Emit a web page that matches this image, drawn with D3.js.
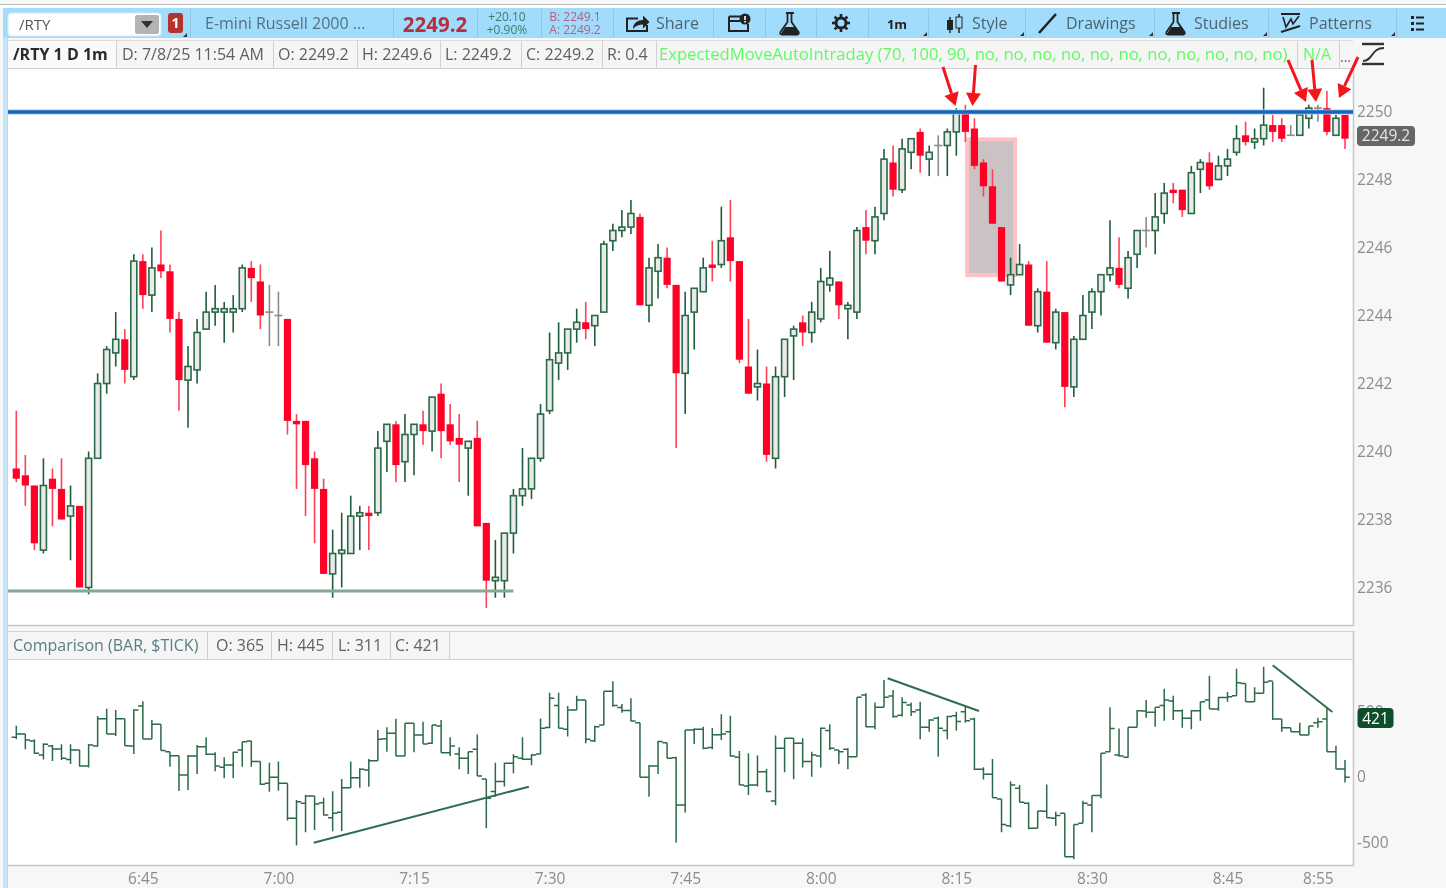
<!DOCTYPE html>
<html><head><meta charset="utf-8">
<script src="https://cdnjs.cloudflare.com/ajax/libs/d3/7.8.5/d3.min.js"></script>
<style>html,body{margin:0;padding:0;background:#f7f7f7;overflow:hidden}svg{display:block;filter:blur(.4px)}text{font-family:"Open Sans",sans-serif}</style>
</head><body><svg id="c" width="1446" height="888"></svg>
<script>
const priceOpen=[2239.5,2239.3,2239.0,2237.1,2239.2,2238.9,2238.1,2238.4,2236.0,2239.8,
2242.0,2242.9,2243.3,2242.2,2245.6,2244.6,2245.5,2245.3,2243.9,2242.1,
2242.4,2243.6,2244.1,2244.1,2244.1,2244.2,2245.4,2245.0,2244.1,2244.0,
2243.9,2240.9,2240.9,2239.8,2238.9,2236.4,2237.0,2237.0,2238.1,2238.2,
2238.2,2240.3,2240.8,2239.7,2240.5,2240.8,2240.6,2241.7,2240.8,2240.4,
2240.1,2240.4,2237.9,2236.2,2236.2,2237.6,2238.7,2238.9,2239.8,2241.2,
2242.6,2242.9,2243.6,2243.8,2243.7,2244.1,2246.2,2246.5,2246.6,2246.9,
2244.3,2245.3,2245.7,2244.9,2242.3,2244.1,2244.7,2245.5,2245.5,2246.3,
2245.6,2242.5,2241.9,2242.0,2239.8,2242.2,2243.4,2243.8,2243.5,2243.9,
2244.9,2245.0,2244.2,2244.1,2246.6,2246.2,2247.0,2248.5,2247.7,2248.8,
2249.4,2248.6,2249.0,2249.0,2249.4,2250.0,2249.5,2248.5,2247.8,2246.6,
2244.9,2245.2,2245.5,2243.7,2244.7,2243.2,2244.1,2241.9,2243.3,2244.1,
2244.7,2245.2,2245.4,2244.8,2245.8,2246.5,2246.5,2247.0,2247.7,2247.7,
2247.0,2248.3,2248.5,2248.0,2248.4,2248.8,2249.3,2249.1,2249.2,2249.6,
2249.6,2249.3,2249.3,2249.8,2250.1,2250.1,2249.3,2249.9];
const priceHigh=[2241.2,2239.9,2239.0,2239.8,2239.5,2239.8,2239.0,2238.4,2240.0,2242.3,
2243.1,2244.1,2243.6,2245.8,2245.8,2246.0,2246.5,2245.5,2244.1,2243.1,
2243.9,2244.7,2244.9,2244.4,2244.6,2245.5,2245.6,2245.5,2244.9,2244.7,
2243.9,2241.1,2240.9,2240.0,2239.2,2237.7,2238.2,2238.7,2238.4,2238.4,
2240.6,2240.8,2240.9,2241.1,2240.8,2241.2,2241.6,2242.0,2241.4,2241.1,
2240.3,2240.9,2237.9,2237.4,2237.6,2238.9,2240.1,2239.8,2241.4,2243.5,
2243.8,2243.6,2244.2,2244.4,2244.0,2246.2,2246.7,2247.1,2247.4,2247.0,
2245.7,2246.1,2246.0,2244.9,2244.7,2244.8,2245.7,2246.2,2247.2,2247.4,
2245.6,2243.9,2243.0,2242.5,2242.5,2243.3,2243.7,2244.0,2244.4,2245.4,
2245.9,2245.0,2244.4,2246.6,2247.1,2247.2,2248.9,2249.0,2249.2,2249.2,
2249.5,2249.0,2249.3,2249.5,2250.1,2250.2,2249.8,2248.6,2248.3,2246.6,
2245.7,2246.1,2245.6,2244.8,2245.6,2244.2,2244.1,2243.4,2244.6,2244.8,
2245.2,2246.8,2246.3,2245.9,2246.5,2246.9,2247.6,2247.9,2247.9,2247.7,
2248.4,2248.6,2248.8,2248.7,2248.9,2249.6,2249.7,2249.5,2250.7,2249.9,
2249.8,2249.6,2249.9,2250.2,2250.2,2250.6,2249.9,2249.9];
const priceLow=[2239.1,2238.4,2237.1,2237.0,2237.8,2238.0,2236.8,2236.0,2235.8,2239.8,
2241.7,2242.5,2242.0,2242.1,2244.2,2244.1,2245.1,2243.5,2241.2,2240.7,
2242.0,2243.6,2243.7,2243.2,2243.5,2244.1,2244.4,2243.6,2243.1,2243.1,
2240.5,2238.9,2238.1,2237.3,2236.4,2235.7,2236.0,2237.0,2237.1,2237.1,
2238.1,2239.4,2239.1,2239.1,2239.3,2240.2,2240.0,2239.8,2240.2,2239.1,
2238.7,2237.8,2235.4,2235.7,2235.7,2237.0,2238.4,2238.6,2239.7,2241.1,
2242.1,2242.4,2243.2,2243.3,2243.1,2244.1,2245.9,2246.3,2246.4,2244.3,
2243.8,2244.5,2244.8,2240.1,2241.1,2243.0,2244.7,2245.0,2245.4,2245.0,
2242.6,2241.7,2241.5,2239.7,2239.5,2241.6,2242.1,2243.1,2243.2,2243.8,
2244.7,2243.9,2243.3,2243.9,2245.8,2245.8,2246.8,2247.5,2247.6,2248.3,
2248.2,2248.1,2248.1,2248.1,2248.7,2249.1,2248.3,2247.5,2246.7,2245.0,
2244.6,2245.2,2243.7,2243.5,2243.2,2243.0,2241.3,2241.6,2243.3,2243.6,
2244.0,2245.0,2244.8,2244.5,2245.4,2246.0,2245.8,2246.7,2247.3,2246.9,
2247.0,2247.6,2247.7,2248.0,2248.1,2248.7,2249.0,2248.9,2249.0,2249.1,
2249.1,2249.3,2249.3,2249.5,2249.7,2249.3,2249.3,2248.9];
const priceClose=[2239.2,2239.0,2237.3,2239.0,2238.9,2238.0,2238.4,2236.0,2239.8,2242.0,
2243.0,2243.3,2242.4,2245.6,2244.6,2245.4,2245.3,2243.9,2242.1,2242.5,
2243.5,2244.1,2244.2,2244.2,2244.2,2245.4,2245.1,2244.0,2244.1,2244.0,
2240.9,2240.8,2239.6,2238.9,2236.4,2237.0,2237.1,2238.1,2238.2,2238.1,
2240.1,2240.8,2239.6,2240.5,2240.8,2240.6,2241.6,2240.6,2240.3,2240.2,
2240.3,2237.8,2236.2,2236.3,2237.6,2238.7,2238.9,2239.8,2241.1,2242.7,
2242.9,2243.6,2243.8,2243.6,2244.0,2246.1,2246.5,2246.6,2247.0,2244.3,
2245.4,2245.7,2244.9,2242.3,2244.0,2244.8,2245.4,2245.4,2246.2,2245.6,
2242.7,2241.7,2242.0,2239.9,2242.2,2243.3,2243.6,2243.5,2244.1,2245.0,
2245.1,2244.3,2244.3,2246.5,2246.2,2246.9,2248.6,2247.7,2248.9,2249.2,
2248.7,2248.8,2249.0,2249.4,2250.0,2249.4,2248.4,2247.8,2246.7,2245.0,
2245.2,2245.5,2243.7,2244.7,2243.2,2244.1,2241.9,2243.3,2244.0,2244.7,
2245.2,2245.4,2244.9,2245.7,2246.5,2246.5,2246.9,2247.6,2247.6,2247.1,
2248.2,2248.5,2247.8,2248.4,2248.6,2249.2,2249.1,2249.2,2249.6,2249.4,
2249.2,2249.3,2249.9,2250.1,2250.1,2249.4,2249.8,2249.2];
const tickOpen=[306,331,278,170,239,216,137,209,86,239,448,331,448,239,545,293,405,196,165,18,163,234,176,76,94,209,278,120,-46,0,
-46,-314,-199,-143,-194,-309,-268,-79,-3,56,127,295,336,163,413,323,260,392,188,178,145,214,-13,-109,-33,107,145,138,178,380,
548,367,515,591,280,400,657,533,510,418,0,87,265,150,-211,362,367,227,326,349,153,-66,-59,43,-181,222,298,260,120,163,
357,209,214,158,629,387,535,622,474,553,515,382,451,357,471,502,446,61,23,-166,-370,-84,-199,-390,-260,-314,-275,-607,-352,-212,
-140,196,170,153,382,507,497,548,583,509,451,509,591,522,611,624,718,578,642,736,446,379,349,323,418,446,196,63];
const tickHigh=[395,331,290,260,247,252,252,209,255,469,525,514,448,520,581,438,405,196,165,170,247,306,191,153,196,272,280,120,112,120,
-46,-173,-135,-143,-156,-107,-13,120,69,140,362,382,448,413,413,425,400,438,306,229,196,328,-13,112,112,176,306,178,449,647,
647,545,624,591,395,657,734,561,604,418,94,280,265,158,362,375,387,377,482,471,201,184,166,64,319,298,298,298,196,380,
405,209,222,612,642,571,744,668,612,571,578,443,464,471,502,545,456,76,140,-166,-33,-59,-191,-258,-56,-263,-275,-360,-179,-140,
183,535,374,382,514,591,535,677,624,519,514,578,777,616,652,830,718,688,846,731,446,379,418,392,456,535,242,132];
const tickLow=[293,214,178,137,125,132,102,81,74,234,331,316,242,178,293,293,204,81,-105,-97,25,170,46,-8,-8,81,81,-59,-110,-102,
-331,-522,-421,-403,-293,-413,-410,-79,-79,-72,127,196,163,163,191,255,255,188,163,61,25,10,-390,-148,-71,31,133,92,178,375,
375,311,515,260,270,400,540,494,426,0,-148,26,145,-499,-270,255,214,214,285,158,-59,-135,-71,-115,-214,38,-15,74,5,74,
209,102,61,158,382,367,535,456,464,469,291,349,158,291,357,418,56,-16,-156,-421,-383,-191,-398,-390,-309,-372,-607,-627,-352,-421,
-161,196,158,150,382,456,387,433,438,379,367,433,522,509,578,624,578,578,642,438,349,349,323,323,379,196,61,-39];
const tickClose=[331,285,183,252,216,145,209,86,247,448,331,448,242,514,293,405,204,165,18,163,234,176,86,94,191,272,120,-54,0,-46,
-314,-186,-143,-204,-288,-275,-79,-3,61,127,290,336,163,413,323,255,400,188,239,145,196,10,-160,-33,107,158,138,171,375,604,
375,515,591,291,387,657,548,510,431,0,87,273,145,-211,362,367,222,326,331,163,-59,-59,43,-109,222,298,260,120,171,375,
222,196,158,612,387,535,612,464,571,502,382,438,375,464,426,433,61,23,-156,-360,-59,-191,-390,-258,-309,-293,-607,-360,-199,-140,
183,374,163,382,509,497,535,591,509,451,509,578,522,611,616,723,578,642,726,446,379,349,323,392,425,196,63,0];
const priceTicks=[2250,2248,2246,2244,2242,2240,2238,2236];
const tickTicks=[-500,0,500];
const timeLabels=["6:45","7:00","7:15","7:30","7:45","8:00","8:15","8:30","8:45","8:55"];
const timeIndex=[14,29,44,59,74,89,104,119,134,144];
const resistance=2250, support=2235.9, last=2249.2, lastTick=421;
const boxBars=[105.2,110.5], boxPrices=[2249.18,2245.19];
const trendBars=[[32.9,56.7],[96.4,106.5],[139,145.6]];
const trendValues=[[-500,-72],[757,507],[856,499]];
const ohlcLegend=["D: 7/8/25 11:54 AM","O: 2249.2","H: 2249.6","L: 2249.2","C: 2249.2","R: 0.4"];
const tickLegend=["O: 365","H: 445","L: 311","C: 421"];

const svg=d3.select("#c");
const x=d3.scaleLinear().domain([0,147]).range([16.3,1345]);
const yP=d3.scaleLinear().domain([2250,2236]).range([111.5,587.5]);
const yT=d3.scaleLinear().domain([-500,500]).range([842.7,711.9]);
const GREEN="#2b6a48",WICK="#1e5c3b",RED="#ff0026",REDW="#ff4055",GRAY="#8b8b8b";

function T(s,px,py,o={}){return svg.append("text").attr("x",px).attr("y",py-1).attr("dominant-baseline","central")
 .attr("font-size",o.size||16).attr("font-weight",o.weight||400).attr("fill",o.fill||"#666").attr("text-anchor",o.anchor||"start").text(s);}
function R(a,b,w,h,f,s,r){const e=svg.append("rect").attr("x",a).attr("y",b).attr("width",w).attr("height",h).attr("fill",f);
 if(s)e.attr("stroke",s);if(r)e.attr("rx",r);return e;}
function L(a,b,c,d,s,w){return svg.append("line").attr("x1",a).attr("y1",b).attr("x2",c).attr("y2",d).attr("stroke",s).attr("stroke-width",w||1);}
function P(d,f,s,w){return svg.append("path").attr("d",d).attr("fill",f||"none").attr("stroke",s||"none").attr("stroke-width",w||1);}

// window chrome
R(0,0,1446,888,"#f7f7f7");
L(0,4.5,1446,4.5,"#bdbdbd",1);
R(0,5,1446,3,"#fdfdfd");
const BAR="#a2dcfd";
R(3,8,1443,30,BAR);
R(3,38,4,850,"#c4e6f8");
L(7.5,38,7.5,888,"#d2d2d2",1);
// toolbar separators
[190,393,477,541,613,713,765,816,868,928,1025,1154,1268,1396].forEach(v=>L(v+.5,9,v+.5,37,"#8ec8e6",1));
// symbol selector
R(8,13,153,23,"#ffffff","#d8eaf3",3);
R(135,15,24,19,"#b4b4b4",null,2);
P("M141 21h12l-6 7z","#333");
T("/RTY",19,24.5,{size:15,fill:"#555"});
R(168,13,15,20,"#b5332f",null,3);
T("1",175.5,23.5,{size:14,weight:700,fill:"#fff",anchor:"middle"});
P("M187 37v-4l-4 4z","#333");
T("E-mini Russell 2000 ...",205,23.5,{fill:"#56707f"});
T("2249.2",435,24.5,{size:20.5,weight:700,fill:"#b5303c",anchor:"middle"});
T("+20.10",507,17,{size:12,fill:"#3f7d66",anchor:"middle"});
T("+0.90%",507,30,{size:12,fill:"#3f7d66",anchor:"middle"});
T("B: 2249.1",575,17,{size:12,fill:"#b55e78",anchor:"middle"});
T("A: 2249.2",575,30,{size:12,fill:"#b55e78",anchor:"middle"});
// share icon
P("M638 18.5h-11v12.5h20v-6","none","#222",2);
P("M633 29c0-6 5-9 10-9v-4.5l6.5 6.5-6.5 6.5v-4c-4 0-7 1-10 4.500z","#222");
T("Share",656,23.5,{fill:"#4d6470"});
// calendar icon
P("M729 16.5h15 M729 16.500v14.500h19v-7","none","#222",2);
L(729,21,740,21,"#222",2);
svg.append("circle").attr("cx",745).attr("cy",19).attr("r",5.5).attr("fill","#222");
L(745,16,745,20,"#fff",1.6);L(745,21,745,22.6,"#fff",1.6);
// flask
function flask(c){P(`M${c-2.5} 14v8l-7 10q-1 2.500 1.500 2.500h15q2.500 0 1.500-2.500l-7-10v-8`,"none","#222",1.8);
 P(`M${c-5} 27h10l4 7h-18z`,"#222");L(c-4,13,c+4,13,"#222",2);}
flask(790);flask(1176);
// gear
svg.append("circle").attr("cx",841).attr("cy",23).attr("r",5).attr("fill","none").attr("stroke","#222").attr("stroke-width",3);
d3.range(8).forEach(k=>{const a=k*Math.PI/4;L(841+5*Math.cos(a),23+5*Math.sin(a),841+9*Math.cos(a),23+9*Math.sin(a),"#222",2.6);});
T("1m",897,24.5,{size:13,weight:700,fill:"#222",anchor:"middle"});
// style icon
L(950,17,950,33,"#222",1.5);R(947,20,6,10,"#222");L(959,14,959,33,"#222",1.5);R(956,17,6,11,BAR,"#222");
T("Style",972,23.5,{fill:"#4d6470"});
// drawings icon
L(1039,33,1056,14,"#222",2.6);
T("Drawings",1066,23.5,{fill:"#4d6470"});
T("Studies",1194,23.5,{fill:"#4d6470"});
// patterns icon
L(1281,14,1300,14,"#222",2);P("M1283 17l3 10 5-8 2 5 6-8","none","#222",1.6);L(1281,32,1300,26,"#222",2);
T("Patterns",1309,23.5,{fill:"#4d6470"});
// list icon
[17,23,29].forEach(v=>{R(1411,v-1,3,3,"#222");L(1416,v+.5,1424,v+.5,"#222",2);});
[928,1025,1154,1268,1396].forEach(v=>P(`M${v-1} 36v-4l-4 4z`,"#333"));

// upper info bar
R(8,40,1345,28,"#f5f5f5");
L(8,68.5,1353,68.5,"#d0d0d0",1);L(8,40.5,1353,40.5,"#dcdcdc",1);
R(8,41,108,27,"#fafafa");
[116,273,357,440,521,602,656,1297,1339].forEach(v=>L(v+.5,41,v+.5,68,"#d0d0d0",1));
T("/RTY 1 D 1m",13,54.5,{weight:700,fill:"#2a2a2a"});
[122,278,362,445,526,607].forEach((v,k)=>T(ohlcLegend[k],v,54.5,{fill:"#5f5f5f"}));
const indC="#5ffb62";
T("ExpectedMoveAutoIntraday (70, 100, 90, no, no, no, no, no, no, no, no, no, no, no)",659,54.5,{size:16.6,fill:indC});
T("N/A",1303,54.5,{size:16,fill:indC});
T("...",1340,57,{size:14,fill:"#666"});
// study icon
L(1362,44,1384,44,"#333",2.4);L(1362,64,1384,64,"#333",2.4);
P("M1363 61c10 0 8-13 21-13","none","#333",1.8);

// plots
R(8,69,1345,556,"#fff");
R(8,660,1345,205,"#fff");
L(1353.5,69,1353.5,626,"#c6c6c6",1.5);
L(8,625.5,1353,625.5,"#c6c6c6",1.5);
L(8,631.5,1353,631.5,"#d4d4d4",1);
L(1353.5,631,1353.5,866,"#c6c6c6",1.5);
L(8,865.5,1353,865.5,"#c6c6c6",1.5);
L(8,659.5,1353,659.5,"#d0d0d0",1);
// lower info bar
R(8,632,441,27,"#f5f5f5");
[207,271,332,390,449].forEach(v=>L(v+.5,632,v+.5,659,"#d0d0d0",1));
T("Comparison (BAR, $TICK)",13,645.5,{fill:"#5b7c86"});
[216,277,338,395].forEach((v,k)=>T(tickLegend[k],v,645.5,{fill:"#626262"}));

// box
svg.append("rect").attr("x",x(boxBars[0])).attr("y",yP(boxPrices[0]))
 .attr("width",x(boxBars[1])-x(boxBars[0])).attr("height",yP(boxPrices[1])-yP(boxPrices[0]))
 .attr("fill","#cbc3c3").attr("stroke","#ffc2c4").attr("stroke-width",4);

// candles
const idx=d3.range(priceOpen.length);
const col=i=>priceClose[i]>priceOpen[i]?"up":priceClose[i]<priceOpen[i]?"down":"flat";
const gC=svg.append("g");
gC.selectAll("line").data(idx).join("line")
 .attr("x1",i=>x(i)).attr("x2",i=>x(i)).attr("y1",i=>yP(priceHigh[i])).attr("y2",i=>yP(priceLow[i]))
 .attr("stroke",i=>({up:WICK,down:REDW,flat:GRAY})[col(i)]).attr("stroke-width",1.6);
gC.selectAll("rect").data(idx.filter(i=>col(i)!=="flat")).join("rect")
 .attr("x",i=>x(i)-(col(i)==="up"?3:3.6)).attr("width",i=>col(i)==="up"?6:7.2)
 .attr("y",i=>yP(Math.max(priceOpen[i],priceClose[i]))).attr("height",i=>Math.abs(yP(priceOpen[i])-yP(priceClose[i])))
 .attr("fill",i=>col(i)==="up"?"#e9ebe9":RED).attr("stroke",i=>col(i)==="up"?GREEN:"none").attr("stroke-width",1.6);
gC.selectAll("path").data(idx.filter(i=>col(i)==="flat")).join("path")
 .attr("d",i=>`M${x(i)-4} ${yP(priceClose[i])}H${x(i)+4}`).attr("stroke",GRAY).attr("stroke-width",1.6);

// horizontal levels
L(8,yP(resistance)+.5,1353,yP(resistance)+.5,"#a8cdee",5);
L(8,yP(resistance)+.5,1353,yP(resistance)+.5,"#1565c0",3.6);
L(8,yP(support),x(55.0),yP(support),"#83a893",3);

// arrows
[[943,67,955.5,106],[975.5,65,972.5,106],[1288,60,1306,102],[1312,60,1316,102],[1358,57,1339,98]].forEach(([a,b,c,d])=>{
 const t=Math.atan2(d-b,c-a),hx=c-13*Math.cos(t),hy=d-13*Math.sin(t),n=7.5;
 L(a,b,hx,hy,"#f5141c",3);
 P(`M${c} ${d}L${hx-n*Math.sin(t)} ${hy+n*Math.cos(t)}L${hx+n*Math.sin(t)} ${hy-n*Math.cos(t)}Z`,"#f5141c");
});

// tick bars
const gT=svg.append("g").attr("stroke",GREEN).attr("stroke-width",1.5).attr("fill","none");
gT.selectAll("path").data(idx).join("path").attr("d",i=>{const X=x(i);
 return `M${X} ${yT(tickHigh[i])}V${yT(tickLow[i])}M${X-4.7} ${yT(tickOpen[i])}H${X}M${X} ${yT(tickClose[i])}H${X+4.7}`;});
trendBars.forEach((b,k)=>L(x(b[0]),yT(trendValues[k][0]),x(b[1]),yT(trendValues[k][1]),"#2f6e4d",2));

// axes
function styleAxis(g){g.select(".domain").remove();g.selectAll("text").attr("font-family","'Open Sans',sans-serif").attr("font-size",15.5).attr("fill","#8c8c8c").attr("dy",function(){return this.getAttribute("dy")==="0.32em"?"0.3em":this.getAttribute("dy");});}
svg.append("g").attr("transform","translate(1353,0)").call(d3.axisRight(yP).tickValues(priceTicks).tickSize(0).tickPadding(4).tickFormat(d3.format("d"))).call(styleAxis);
svg.append("g").attr("transform","translate(1353,0)").call(d3.axisRight(yT).tickValues(tickTicks).tickSize(0).tickPadding(4).tickFormat(d=>d<0?"-"+Math.abs(d):d)).call(styleAxis);
svg.append("g").attr("transform","translate(0,867)").call(d3.axisBottom(x).tickValues(timeIndex).tickSize(0).tickPadding(6).tickFormat((d,k)=>timeLabels[k])).call(styleAxis);

// last value tags
R(1357,126,58,20,"#666",null,4);
T(last.toFixed(1),1386,136,{size:15.5,fill:"#e4e4e4",anchor:"middle"});
R(1357.5,708,36,20,"#0c4f28",null,4);
T(lastTick,1375.5,718.5,{size:15.5,fill:"#fff",anchor:"middle"});
</script></body></html>
